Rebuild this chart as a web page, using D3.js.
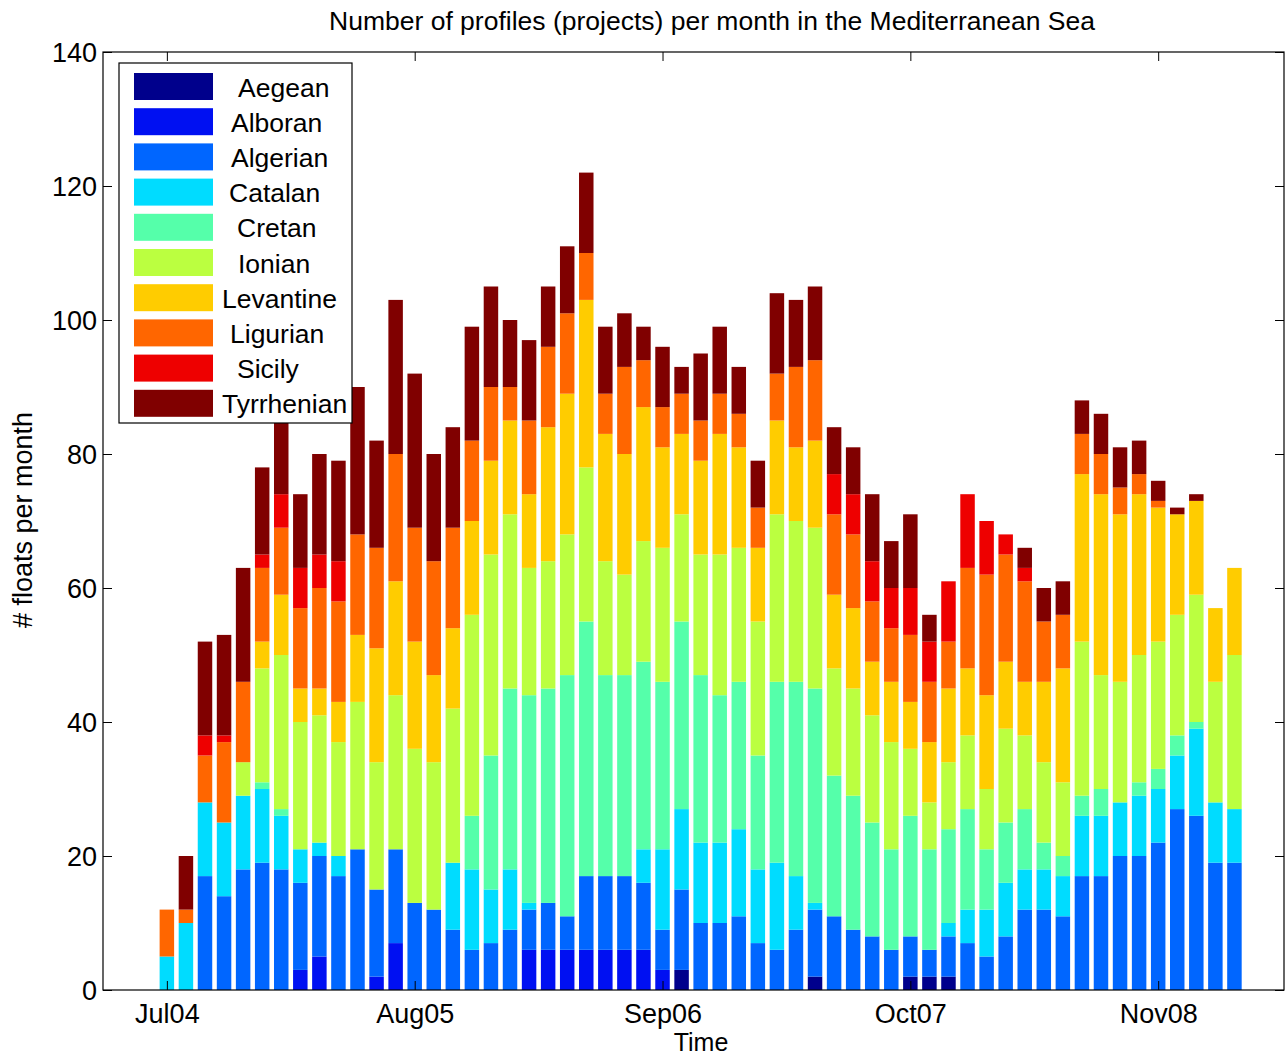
<!DOCTYPE html>
<html>
<head>
<meta charset="utf-8">
<script src="https://cdn.jsdelivr.net/npm/d3@7"></script>
<style>
  body { margin: 0; background: #fff; }
  text { font-family: "Liberation Sans", Arial, sans-serif; fill: #000; }
</style>
</head>
<body>
<div id="chart"></div>
<script>
// months Jul 2004 .. Mar 2009
const months = [
  "2004-07","2004-08","2004-09","2004-10","2004-11","2004-12",
  "2005-01","2005-02","2005-03","2005-04","2005-05","2005-06","2005-07","2005-08","2005-09","2005-10","2005-11","2005-12",
  "2006-01","2006-02","2006-03","2006-04","2006-05","2006-06","2006-07","2006-08","2006-09","2006-10","2006-11","2006-12",
  "2007-01","2007-02","2007-03","2007-04","2007-05","2007-06","2007-07","2007-08","2007-09","2007-10","2007-11","2007-12",
  "2008-01","2008-02","2008-03","2008-04","2008-05","2008-06","2008-07","2008-08","2008-09","2008-10","2008-11","2008-12",
  "2009-01","2009-02","2009-03"
];

const regions = ["Aegean","Alboran","Algerian","Catalan","Cretan","Ionian","Levantine","Ligurian","Sicily","Tyrrhenian"];
const colors = ["#00008c","#0010f2","#0066ff","#00dcff","#55ffaa","#bbff40","#ffcc00","#ff6600","#ee0000","#800000"];

const aegean     = [0,0,0,0,0,0,0,0,0,0,0,0,0,0,0,0,0,0,0,0,0,0,0,0,0,0,0,3,0,0,0,0,0,0,2,0,0,0,0,2,2,2,0,0,0,0,0,0,0,0,0,0,0,0,0,0,0];
const alboran    = [0,0,0,0,0,0,0,3,5,0,0,2,7,0,0,0,0,0,0,6,6,6,6,6,6,6,3,0,0,0,0,0,0,0,0,0,0,0,0,0,0,0,0,0,0,0,0,0,0,0,0,0,0,0,0,0,0];
const algerian   = [0,0,17,14,18,19,18,13,15,17,21,13,14,13,12,9,6,7,9,6,7,5,11,11,11,10,6,12,10,10,11,7,6,9,10,11,9,8,6,6,4,6,7,5,8,12,12,11,17,17,20,20,22,27,26,19,19];
const catalan    = [5,10,11,11,11,11,8,5,2,3,0,0,0,0,0,10,12,8,9,1,0,0,0,0,0,5,12,12,12,12,13,11,13,8,1,0,0,0,0,0,0,2,5,7,8,6,6,6,9,9,8,9,8,8,13,9,8];
const cretan     = [0,0,0,0,0,1,1,0,0,0,0,0,0,0,0,0,8,20,27,31,32,36,38,30,30,28,25,28,25,22,22,17,27,29,32,21,20,17,15,18,15,14,15,9,9,9,4,3,3,4,0,2,3,3,1,0,0];
const ionian     = [0,0,0,0,5,17,23,19,19,17,22,19,23,23,22,23,30,30,26,19,19,21,23,17,15,18,20,16,18,21,20,20,25,24,24,16,16,16,16,10,7,10,11,9,14,11,12,11,23,17,18,19,19,18,19,18,23];
const levantine  = [0,0,0,0,0,4,9,5,4,6,10,17,17,16,13,12,14,14,14,11,20,21,25,19,18,20,15,12,14,18,15,11,14,11,13,11,12,8,9,7,9,11,10,14,10,8,12,17,25,27,25,24,20,15,14,11,13];
const ligurian   = [7,2,7,12,12,11,10,12,15,15,15,15,19,17,17,15,12,11,5,11,12,12,7,6,13,7,6,6,6,6,5,6,7,12,12,12,11,9,8,10,9,7,15,18,16,15,9,8,6,6,4,3,1,0,0,0,0];
const sicily     = [0,0,3,1,0,2,5,6,5,6,0,0,0,0,0,0,0,0,0,0,0,0,0,0,0,0,0,0,0,0,0,0,0,0,0,6,6,6,6,7,6,9,11,8,3,2,0,0,0,0,0,0,0,0,0,0,0];
const tyrrhenian = [0,8,14,15,17,13,12,11,15,15,22,16,23,23,16,15,17,15,10,12,9,10,12,10,8,5,9,4,10,10,7,7,12,10,11,7,7,10,7,11,4,0,0,0,0,3,5,5,5,6,6,5,3,1,1,0,0];

const tickMonths = [0, 13, 26, 39, 52];
const tickLabels = ["Jul04","Aug05","Sep06","Oct07","Nov08"];
const yTicks = [0,20,40,60,80,100,120,140];

const series = [aegean, alboran, algerian, catalan, cretan, ionian, levantine, ligurian, sicily, tyrrhenian];

const width = 1286, height = 1058;
const margin = { top: 52, right: 2, bottom: 68, left: 103 };
const plotW = width - margin.left - margin.right;
const plotH = height - margin.top - margin.bottom;

const rows = months.map((m, i) => {
  const r = { month: m, idx: i };
  regions.forEach((name, k) => { r[name] = series[k][i]; });
  return r;
});

const stacked = d3.stack().keys(regions)(rows);

const xScale = d3.scaleLinear().domain([-3.35, 58.6]).range([0, plotW]);
const yScale = d3.scaleLinear().domain([0, 140]).range([plotH, 0]);
const colorScale = d3.scaleOrdinal().domain(regions).range(colors);
const barW = xScale(0.76) - xScale(0);

const svg = d3.select("#chart")
  .append("svg")
  .attr("width", width)
  .attr("height", height)
  .style("display", "block");

svg.append("text")
  .attr("x", 712)
  .attr("y", 30)
  .attr("text-anchor", "middle")
  .style("font-size", "26.5px")
  .text("Number of profiles (projects) per month in the Mediterranean Sea");

const chart = svg.append("g")
  .attr("transform", `translate(${margin.left},${margin.top})`);

chart.selectAll(".layer")
  .data(stacked)
  .join("g")
  .attr("class", "layer")
  .attr("fill", (d) => colorScale(d.key))
  .selectAll("rect")
  .data((d) => d.filter((p) => p[1] - p[0] > 0))
  .join("rect")
  .attr("x", (d) => xScale(d.data.idx) - barW / 2)
  .attr("y", (d) => yScale(d[1]))
  .attr("width", barW)
  .attr("height", (d) => yScale(d[0]) - yScale(d[1]));

// axes (MATLAB style: inward ticks on all four sides)
const tk = 9;
const xAxis = chart.append("g")
  .attr("transform", `translate(0,${plotH})`)
  .call(d3.axisBottom(xScale).tickValues(tickMonths).tickFormat((d, i) => tickLabels[i]).tickSize(-tk).tickPadding(14));
chart.append("g")
  .call(d3.axisTop(xScale).tickValues(tickMonths).tickFormat("").tickSize(-tk));
const yAxis = chart.append("g")
  .call(d3.axisLeft(yScale).tickValues(yTicks).tickSize(-tk).tickPadding(6));
chart.append("g")
  .attr("transform", `translate(${plotW},0)`)
  .call(d3.axisRight(yScale).tickValues(yTicks).tickFormat("").tickSize(-tk));

chart.selectAll(".domain").remove();
chart.selectAll(".tick line").attr("stroke", "#000");
xAxis.selectAll("text").style("font-size", "27px");
yAxis.selectAll("text").style("font-size", "27px").attr("dy", "0.36em");

chart.append("rect")
  .attr("width", plotW)
  .attr("height", plotH)
  .attr("fill", "none")
  .attr("stroke", "#000")
  .attr("stroke-width", 1.2);

svg.append("text")
  .attr("x", 701)
  .attr("y", 1051)
  .attr("text-anchor", "middle")
  .style("font-size", "25px")
  .text("Time");

svg.append("text")
  .attr("transform", "translate(32,520) rotate(-90)")
  .attr("text-anchor", "middle")
  .style("font-size", "27px")
  .text("# floats per month");

// legend
const legend = svg.append("g").attr("transform", "translate(119,63)");
legend.append("rect")
  .attr("width", 233)
  .attr("height", 360)
  .attr("fill", "#fff")
  .attr("stroke", "#000")
  .attr("stroke-width", 1.2);

// labels start at slightly different offsets, as in the padded MATLAB legend
const legendIndent = [16, 9, 9, 7, 15, 16, 0, 8, 15, 0];
const rowH = 35.2;
regions.forEach((name, i) => {
  legend.append("rect")
    .attr("x", 15)
    .attr("y", 10 + i * rowH)
    .attr("width", 79)
    .attr("height", 27)
    .attr("fill", colorScale(name));
  legend.append("text")
    .attr("x", 103 + legendIndent[i])
    .attr("y", 24 + i * rowH)
    .attr("dy", "0.36em")
    .style("font-size", "26.5px")
    .text(name);
});
</script>
</body>
</html>
